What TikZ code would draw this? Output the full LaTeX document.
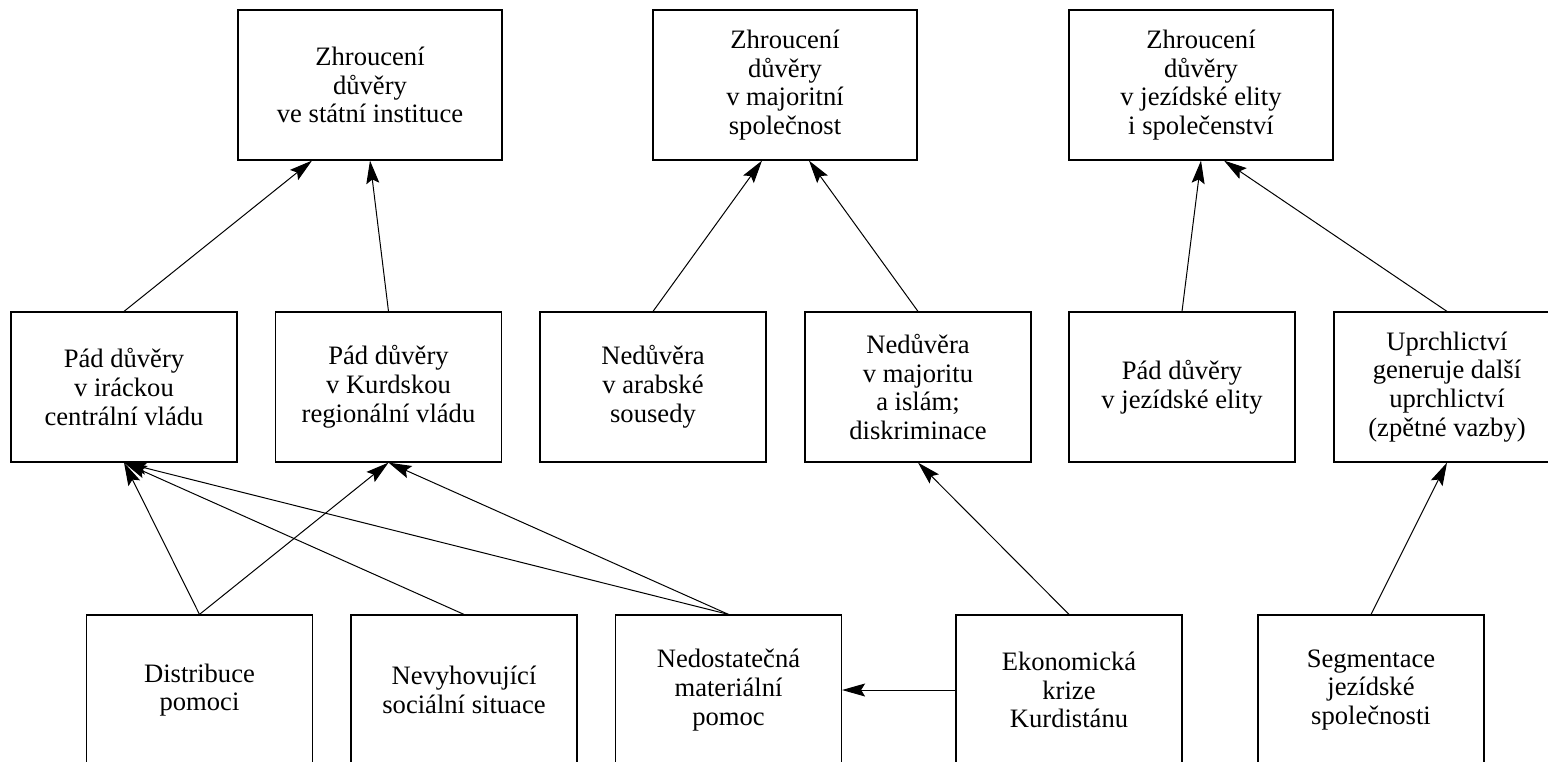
\documentclass[tikz,border=0pt]{standalone}
\usepackage{fontspec}
\setmainfont{Liberation Serif}
\usetikzlibrary{arrows.meta,positioning}

\begin{document}
\begin{tikzpicture}[
x=0.5pt, y=-0.5pt,
font=\fontsize{13.3}{14.4}\selectfont,
box/.style={draw, line width=0.6pt, minimum width=113pt, minimum height=75pt, inner sep=2pt, align=center},
topbox/.style={box, minimum width=132pt},
arr/.style={-{Stealth[length=11.5pt, width=6.5pt, inset=2pt]}, line width=0.5pt}
]
\useasboundingbox (0,0) rectangle (1548,761);

% Top row
\node[topbox] (t1) at (370,85) {Zhroucení\\důvěry\\ve státní instituce};
\node[topbox] (t2) at (785,85) {Zhroucení\\důvěry\\v majoritní\\společnost};
\node[topbox] (t3) at (1201,85) {Zhroucení\\důvěry\\v jezídské elity\\i společenství};

% Middle row
\node[box] (m1) at (124,387) {Pád důvěry\\v iráckou\\centrální vládu};
\node[box] (m2) at (388.5,387) {Pád důvěry\\v Kurdskou\\regionální vládu};
\node[box] (m3) at (653,387) {Nedůvěra\\v arabské\\sousedy};
\node[box] (m4) at (918,387) {Nedůvěra\\v majoritu\\a islám;\\diskriminace};
\node[box] (m5) at (1182,387) {Pád důvěry\\v jezídské elity};
\node[box] (m6) at (1447,387) {Uprchlictví\\generuje další\\uprchlictví\\(zpětné vazby)};

% Bottom row
\node[box] (b1) at (199.5,690) {Distribuce\\pomoci};
\node[box] (b2) at (464,690) {Nevyhovující\\sociální situace};
\node[box] (b3) at (728.5,690) {Nedostatečná\\materiální\\pomoc};
\node[box] (b4) at (1069,690) {Ekonomická\\krize\\Kurdistánu};
\node[box] (b5) at (1371,690) {Segmentace\\jezídské\\společnosti};

% Middle to top
\draw[arr] (m1.north) -- ([xshift=-29pt]t1.south);
\draw[arr] (m2.north) -- (t1.south);
\draw[arr] (m3.north) -- ([xshift=-11.5pt]t2.south);
\draw[arr] (m4.north) -- ([xshift=12pt]t2.south);
\draw[arr] (m5.north) -- (t3.south);
\draw[arr] (m6.north) -- ([xshift=11.5pt]t3.south);

% Bottom to middle
\draw[arr] (b1.north) -- (m1.south);
\draw[arr] (b1.north) -- (m2.south);
\draw[arr] (b2.north) -- (m1.south);
\draw[arr] (b3.north) -- (m1.south);
\draw[arr] (b3.north) -- (m2.south);
\draw[arr] (b4.north) -- (m4.south);
\draw[arr] (b5.north) -- (m6.south);
\draw[arr] (b4.west) -- (b3.east);

\end{tikzpicture}
\end{document}
